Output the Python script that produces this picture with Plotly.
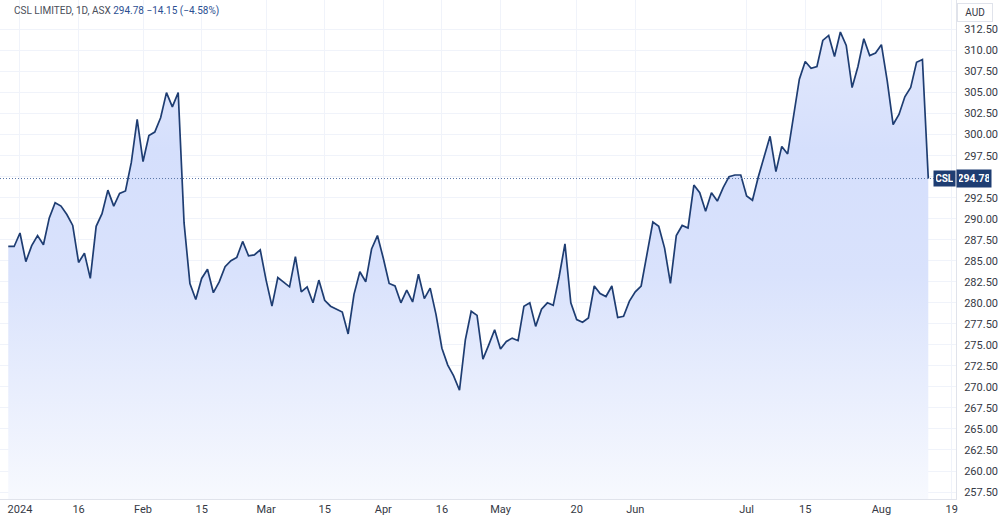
import pandas as pd
import plotly.graph_objects as go

# ---------------- data ----------------
start_date = "2023-12-28"
calendar_end = "2024-08-19"
asx_holidays = ["2024-01-01", "2024-01-26", "2024-03-29", "2024-04-01", "2024-04-25", "2024-06-10"]

close = [
    286.7, 286.7, 288.3, 284.9, 286.8, 288.0, 286.9, 290.1, 291.9, 291.5,
    290.5, 289.2, 284.8, 285.9, 282.9, 289.1, 290.6, 293.4, 291.5, 293.0,
    293.3, 296.7, 301.8, 296.8, 299.9, 300.3, 302.0, 305.0, 303.3, 305.0,
    289.5, 282.3, 280.4, 282.9, 284.0, 281.2, 282.5, 284.3, 285.0, 285.4,
    287.3, 285.6, 285.7, 286.3, 282.7, 279.6, 283.0, 282.4, 281.9, 285.5,
    281.3, 281.9, 280.0, 282.7, 280.3, 279.6, 279.2, 278.9, 276.3, 281.0,
    283.7, 282.5, 286.4, 288.0, 285.3, 282.3, 282.0, 280.0, 281.5, 280.1,
    283.4, 280.5, 281.75, 278.6, 274.6, 272.6, 271.3, 269.6, 275.6, 279.0,
    278.5, 273.3, 275.0, 276.8, 274.5, 275.4, 275.8, 275.5, 279.6, 280.0,
    277.2, 279.25, 280.0, 279.7, 283.1, 287.0, 280.0, 278.0, 277.7, 278.2,
    282.0, 281.1, 280.75, 282.0, 278.25, 278.4, 280.2, 281.3, 282.0, 285.9,
    289.6, 289.1, 286.5, 282.3, 288.0, 289.2, 288.9, 294.0, 293.1, 290.9,
    293.1, 292.1, 293.7, 295.0, 295.2, 295.2, 292.7, 292.2, 295.0, 297.4,
    299.8, 295.6, 298.6, 297.7, 302.2, 306.6, 308.7, 307.9, 308.1, 311.2,
    311.8, 309.3, 312.2, 310.6, 305.6, 308.1, 311.4, 309.4, 309.7, 310.7,
    306.35, 301.2, 302.4, 304.5, 305.6, 308.6, 308.93, 294.78,
]

tick_dates = ["2024-01-02", "2024-01-16", "2024-02-01", "2024-02-15", "2024-03-01",
              "2024-03-15", "2024-04-02", "2024-04-16", "2024-05-01", "2024-05-20",
              "2024-06-03", "2024-07-01", "2024-07-15", "2024-08-01", "2024-08-19"]
tick_labels = ["2024", "16", "Feb", "15", "Mar", "15", "Apr", "16", "May", "20",
               "Jun", "Jul", "15", "Aug", "19"]

price_ticks = [257.5, 260.0, 262.5, 265.0, 267.5, 270.0, 272.5, 275.0, 277.5, 280.0,
               282.5, 285.0, 287.5, 290.0, 292.5, 295.0, 297.5, 300.0, 302.5, 305.0,
               307.5, 310.0, 312.5]

last_price = 294.78
change = -14.15
change_pct = -4.58

# ------------- trading calendar (index axis like TradingView) -------------
cal = pd.bdate_range(start_date, calendar_end)
cal = cal[~cal.isin(pd.to_datetime(asx_holidays))]
dates = cal[:len(close)]
x_idx = list(range(len(close)))
tick_pos = [int(cal.get_loc(pd.Timestamp(d))) for d in tick_dates]
hover = [d.strftime("%d %b %Y") for d in dates]

# hide the axis label that sits under the last-price label
price_text = ["" if abs(v - last_price) < 1.0 else f"{v:.2f}" for v in price_ticks]

NAVY = "#1e3d72"
GRID = "#f0f3fa"
TEXT = "#353944"
FONT = "Roboto"

W, H = 1000, 521
ML, MR, MT, MB = 0, 44, 0, 22
PW, PH = W - ML - MR, H - MT - MB

fig = go.Figure()
fig.add_trace(go.Scatter(
    x=x_idx, y=close, mode="lines",
    line=dict(color=NAVY, width=1.7),
    fill="tozeroy",
    fillgradient=dict(
        type="vertical",
        colorscale=[[0.0, "#f7f9fe"], [0.45, "#d9e2fc"], [0.7, "#d5dffc"], [1.0, "#e6ebfc"]],
        start=256.7, stop=316.0,
    ),
    text=hover, hovertemplate="%{text}<br>%{y:.2f}<extra></extra>",
    showlegend=False,
))

fig.update_layout(
    width=W, height=H,
    margin=dict(l=ML, r=MR, t=MT, b=MB),
    paper_bgcolor="white", plot_bgcolor="white",
    font=dict(family=FONT, size=11, color=TEXT),
    xaxis=dict(
        range=[-1.41, 161.73],
        tickmode="array", tickvals=tick_pos, ticktext=tick_labels,
        showgrid=True, gridcolor=GRID, gridwidth=1,
        zeroline=False, showline=True, linecolor="#e0e3eb", linewidth=1,
        ticks="", tickfont=dict(size=11, color=TEXT),
    ),
    yaxis=dict(
        range=[256.67, 316.01], side="right",
        tickmode="array", tickvals=price_ticks, ticktext=price_text,
        showgrid=True, gridcolor=GRID, gridwidth=1,
        zeroline=False, showline=True, linecolor="#e0e3eb", linewidth=1,
        ticks="", ticklabelstandoff=5, tickfont=dict(size=11, color=TEXT),
    ),
    shapes=[
        dict(type="line", xref="paper", yref="y", x0=0, x1=1,
             y0=last_price, y1=last_price,
             line=dict(color="#5a76a8", width=1, dash="1px,2px")),
    ],
)

def px_x(p):
    return (p - ML) / PW

def px_y(p):
    return 1 - (p - MT) / PH

fig.add_annotation(
    xref="paper", yref="paper", x=px_x(12), y=px_y(11),
    xanchor="left", yanchor="middle", showarrow=False,
    text=(f"<span style='color:#4a4e59'>CSL LIMITED, 1D, ASX</span> "
          f"<span style='color:#2b4f92'>{last_price:.2f} \u2212{abs(change):.2f} (\u2212{abs(change_pct):.2f}%)</span>"),
    font=dict(family=FONT, size=10),
)
fig.add_annotation(
    xref="paper", yref="paper", x=px_x(975), y=px_y(12),
    xanchor="center", yanchor="middle", showarrow=False,
    text="AUD", font=dict(family=FONT, size=10, color=TEXT),
    bordercolor="#e0e3eb", borderwidth=1, borderpad=3, bgcolor="white", width=28,
)
fig.add_annotation(
    xref="paper", yref="y", x=px_x(944.5), y=last_price,
    xanchor="center", yanchor="middle", showarrow=False,
    text="<b>CSL</b>", font=dict(family=FONT, size=10, color="white"),
    bgcolor=NAVY, borderpad=2, width=17,
)
fig.add_annotation(
    xref="paper", yref="y", x=px_x(974), y=last_price,
    xanchor="center", yanchor="middle", showarrow=False,
    text="<b>294.78</b>", font=dict(family=FONT, size=10.5, color="white"),
    bgcolor=NAVY, borderpad=2, width=30,
)

fig.write_html("out.html")
